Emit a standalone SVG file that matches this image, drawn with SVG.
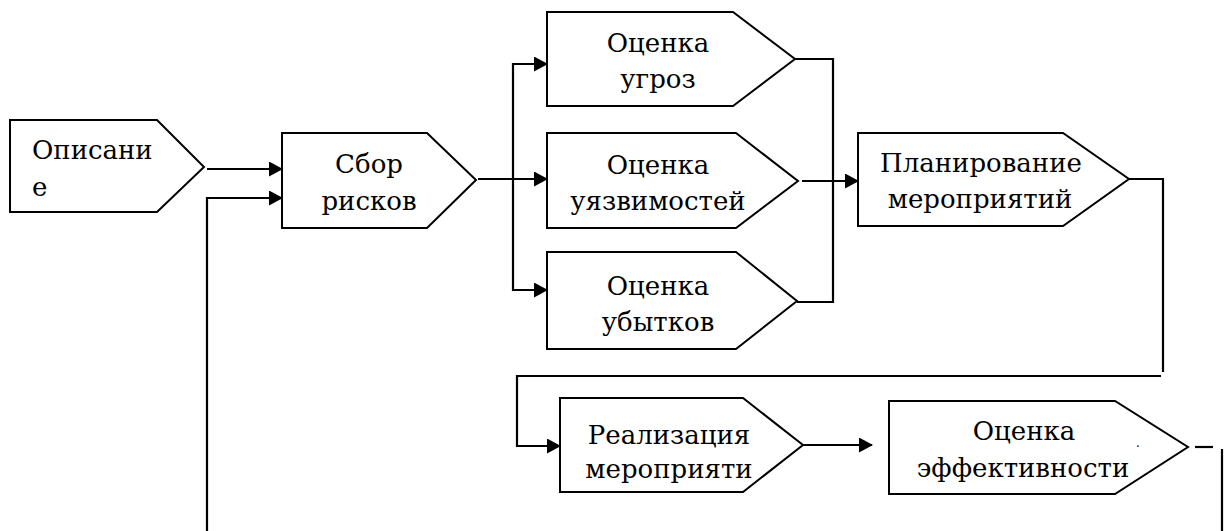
<svg xmlns="http://www.w3.org/2000/svg" width="1226" height="531" viewBox="0 0 1226 531">
<style>
.box{fill:#fff;stroke:#000;stroke-width:2}
.t{font-family:'DejaVu Serif','Liberation Serif',serif;font-size:26px;fill:#000}
.c{text-anchor:middle}
.ln{fill:none;stroke:#000;stroke-width:2.2}
</style>
<defs>
<marker id="ah" markerUnits="userSpaceOnUse" markerWidth="14" markerHeight="15" refX="13" refY="7.5" orient="auto">
<path d="M0,0 L14,7.5 L0,15 Z" fill="#000"/>
</marker>
</defs>
<rect width="1226" height="531" fill="#fff"/>
<g id="n-opisanie">
<path class="box" d="M10,120 H157 L204,167 L157,212 H10 Z"/>
<text class="t" x="32" y="159">Описани</text>
<text class="t" x="32" y="196">е</text>
</g>
<g id="n-sbor">
<path class="box" d="M282,133 H427 L476,180 L427,228 H282 Z"/>
<text class="t c" x="369" y="173">Сбор</text>
<text class="t c" x="369" y="210">рисков</text>
</g>
<g id="n-ugroz">
<path class="box" d="M547,12 H733 L795,59 L733,106 H547 Z"/>
<text class="t c" x="658" y="52">Оценка</text>
<text class="t c" x="658" y="88">угроз</text>
</g>
<g id="n-uyazv">
<path class="box" d="M547,133 H736 L798,181 L736,228 H547 Z"/>
<text class="t c" x="658" y="174">Оценка</text>
<text class="t c" x="658" y="210">уязвимостей</text>
</g>
<g id="n-ubytkov">
<path class="box" d="M547,252 H736 L797,301 L736,349 H547 Z"/>
<text class="t c" x="658" y="295">Оценка</text>
<text class="t c" x="658" y="331">убытков</text>
</g>
<g id="n-plan">
<path class="box" d="M858,133 H1063 L1129,179 L1063,226 H858 Z"/>
<text class="t c" x="981" y="172">Планирование</text>
<text class="t c" x="980" y="208">мероприятий</text>
</g>
<g id="n-real">
<path class="box" d="M560,398 H743 L803,445 L743,492 H560 Z"/>
<text class="t c" x="669" y="444">Реализация</text>
<text class="t c" x="669" y="478">мероприяти</text>
</g>
<g id="n-eff">
<path class="box" d="M889,401 H1115 L1188,447 L1115,494 H889 Z"/>
<text class="t c" x="1024" y="440">Оценка</text>
<text class="t c" x="1023" y="477">эффективности</text>
<text class="t" x="1136" y="447" style="font-size:12px">.</text>
</g>
<g id="connectors">
<path class="ln" d="M207,169 H282" marker-end="url(#ah)"/>
<path class="ln" d="M207,531 V198 H282" marker-end="url(#ah)"/>
<path class="ln" d="M478,179 H547" marker-end="url(#ah)"/>
<path class="ln" d="M513,179 V64 H547" marker-end="url(#ah)"/>
<path class="ln" d="M513,179 V290 H547" marker-end="url(#ah)"/>
<path class="ln" d="M795,59 H833 V302 H797"/>
<path class="ln" d="M802,181 H858" marker-end="url(#ah)"/>
<path class="ln" d="M1129,179 H1163 V372"/>
<path class="ln" d="M1161,376 H517 V446 H560" marker-end="url(#ah)"/>
<path class="ln" d="M803,445 H872" marker-end="url(#ah)"/>
<path class="ln" d="M1195,447 H1213"/>
<path class="ln" d="M1222,449 V531"/>
</g>
</svg>
